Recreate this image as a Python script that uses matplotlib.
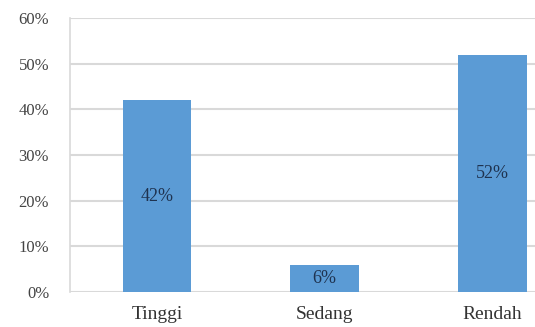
import matplotlib.pyplot as plt
from matplotlib.ticker import PercentFormatter

categories = ['Tinggi', 'Sedang', 'Rendah']
values = [42, 6, 52]
value_labels = ['42%', '6%', '52%']
yticks = [0, 10, 20, 30, 40, 50, 60]

plt.rcParams['font.family'] = ['Liberation Serif', 'DejaVu Serif']

fig = plt.figure(figsize=(5.35, 3.27), dpi=100)
# plot area runs past the right edge, as in the cropped original
ax = fig.add_axes([70 / 535, 35 / 327, 506 / 535, 274 / 327])

bars = ax.bar(range(len(categories)), values, width=0.41, color='#5b9bd5', zorder=3)
for b, lab in zip(bars, value_labels):
    ax.text(b.get_x() + b.get_width() / 2, b.get_height() / 2, lab,
            ha='center', va='center', fontsize=13, color='#1f3350', zorder=4)

ax.set_xlim(-0.52, 2.5)
ax.set_ylim(0, 60)
ax.set_yticks(yticks)
ax.yaxis.set_major_formatter(PercentFormatter(decimals=0))
ax.set_xticks(range(len(categories)))
ax.set_xticklabels(categories, fontsize=14, color='#333333')
ax.tick_params(axis='y', labelsize=12, colors='#444444', length=0, pad=15)
ax.tick_params(axis='x', length=0, pad=10)

ax.grid(axis='y', color='#d9d9d9', linewidth=1.5, zorder=0)
for s in ['top', 'right', 'bottom']:
    ax.spines[s].set_visible(False)
ax.spines['left'].set_color('#d9d9d9')
ax.spines['left'].set_linewidth(1.2)

fig.savefig('out.png', dpi=100)
